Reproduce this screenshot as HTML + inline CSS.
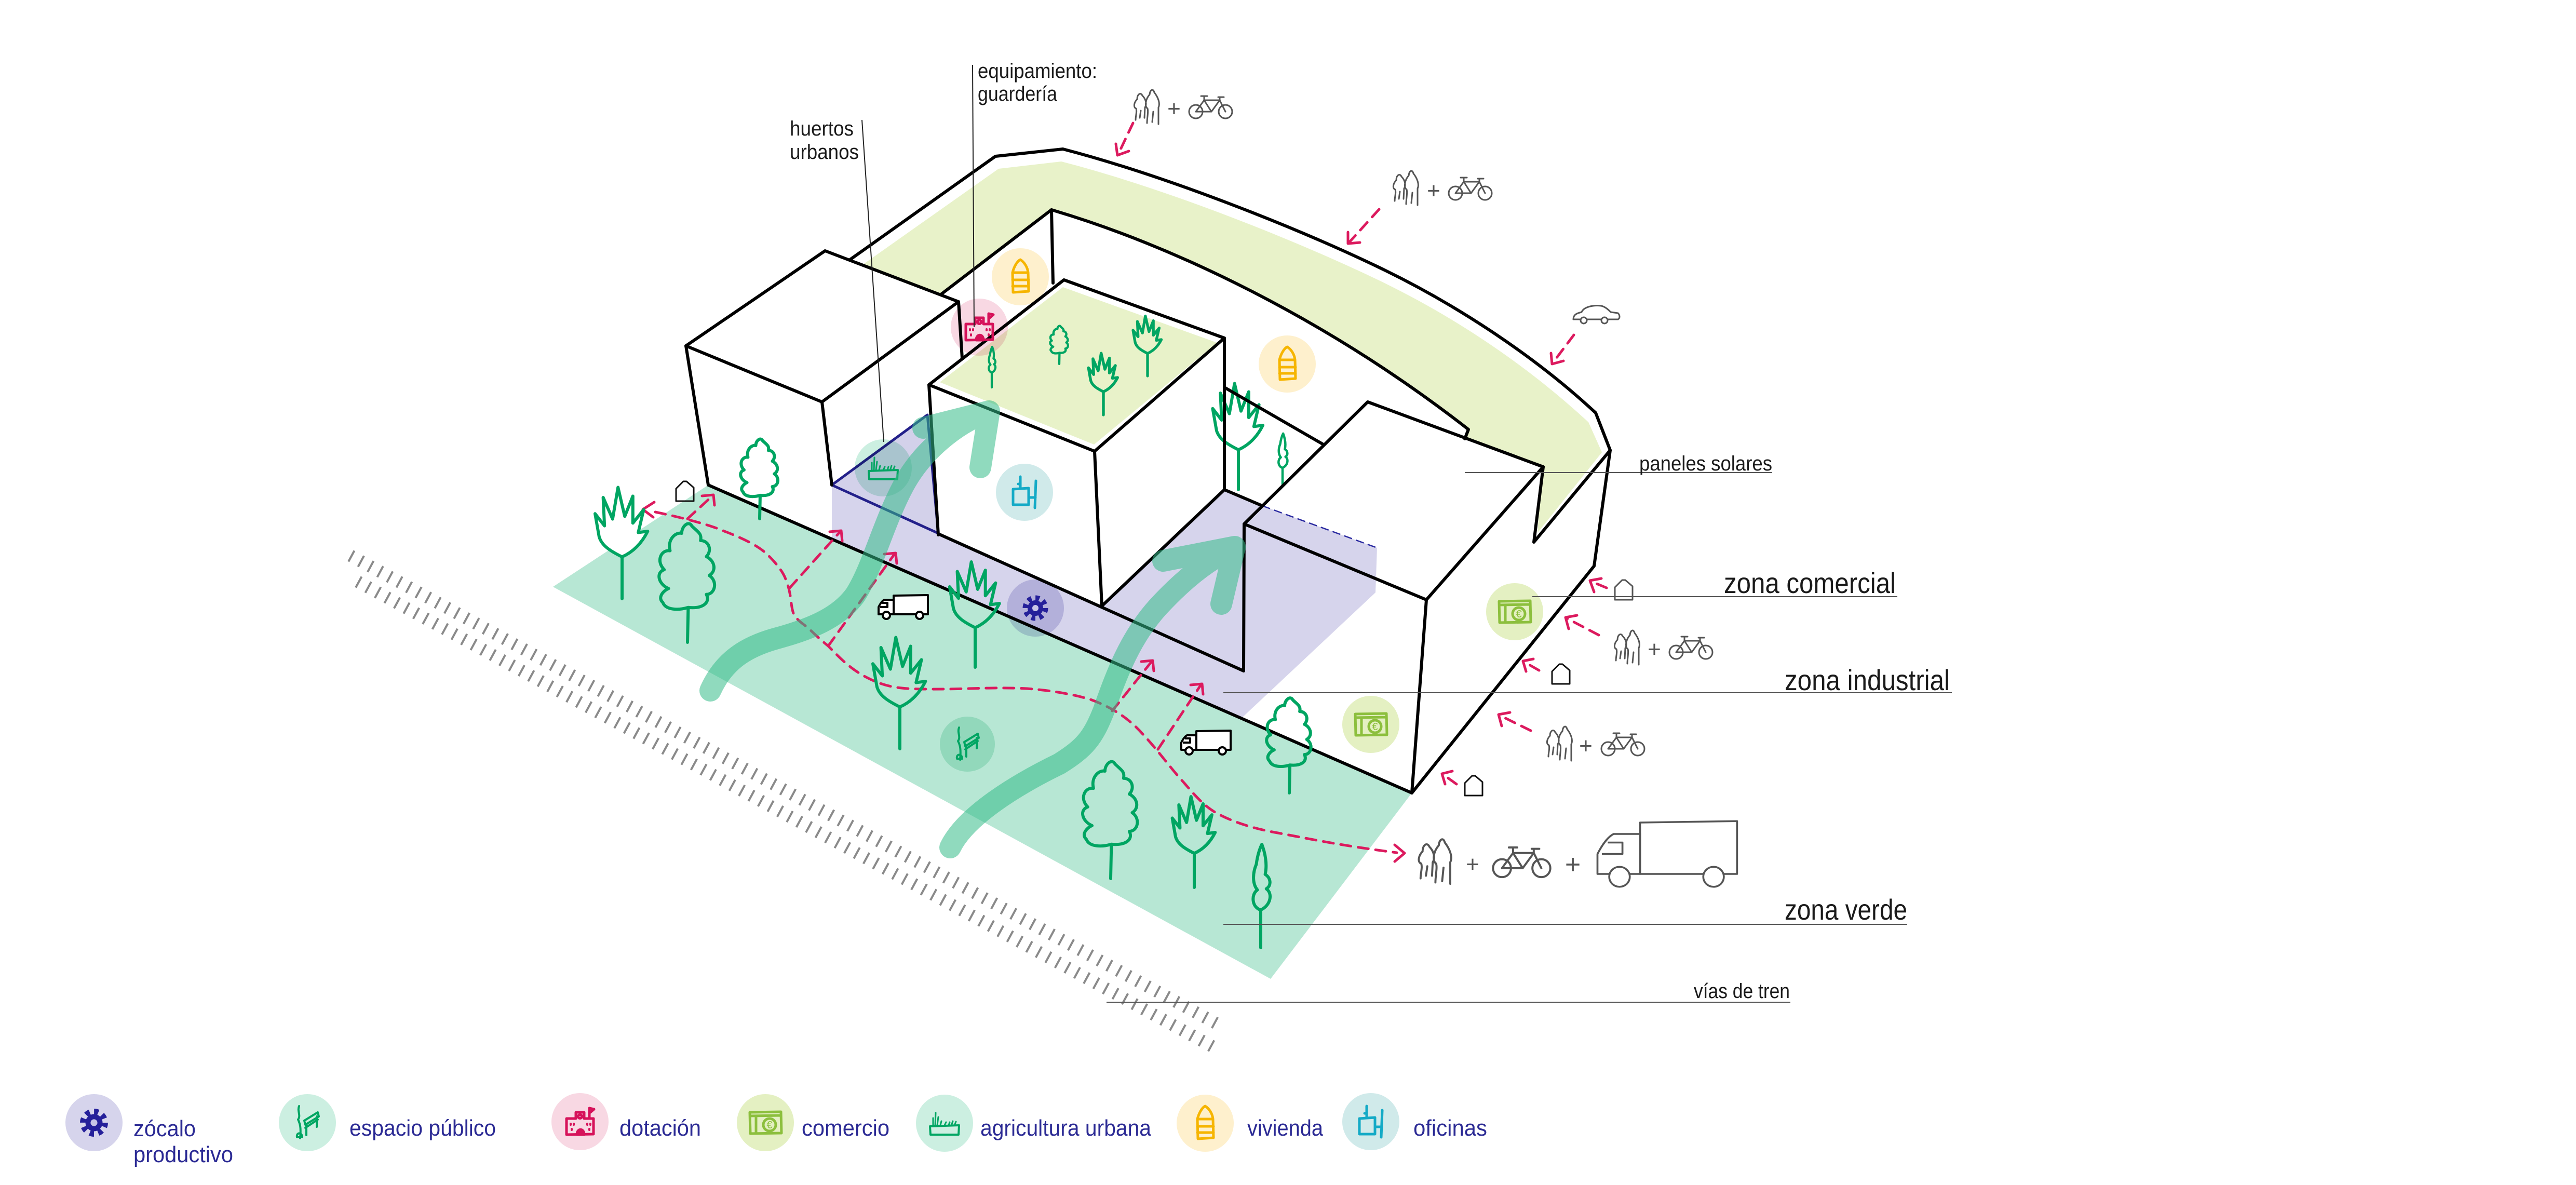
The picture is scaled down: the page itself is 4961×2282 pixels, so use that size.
<!DOCTYPE html>
<html><head><meta charset="utf-8">
<style>
html,body{margin:0;padding:0;background:#fff;}
svg{display:block;}
text{font-family:"Liberation Sans",Arial,sans-serif;}
.mul{mix-blend-mode:multiply;}
</style></head><body>
<svg width="4961" height="2282" viewBox="0 0 4961 2282" xmlns="http://www.w3.org/2000/svg" xmlns:xlink="http://www.w3.org/1999/xlink">
<defs>
  <path id="tA" d="M0,0 L1,-48 M1,-48 C-12,-44 -30,-44 -34,-55 C-42,-62 -32,-72 -26,-74 C-40,-80 -44,-96 -32,-100 C-44,-112 -36,-128 -24,-126 C-28,-142 -16,-152 -8,-150 C-8,-160 2,-168 6,-160 C14,-152 20,-150 18,-140 C30,-140 34,-126 26,-118 C38,-112 40,-98 30,-92 C42,-84 38,-66 26,-66 C32,-54 20,-46 1,-48"/>
  <path id="tB" d="M0,0 L0,-62 M0,-62 C-16,-70 -30,-78 -34,-92 L-40,-126 L-26,-108 L-28,-150 L-14,-118 L-6,-165 L4,-122 L16,-152 L16,-112 L32,-132 L24,-98 L38,-100 C30,-84 18,-70 0,-62"/>
  <path id="tBf" d="M0,-62 C-16,-70 -30,-78 -34,-92 L-40,-126 L-26,-108 L-28,-150 L-14,-118 L-6,-165 L4,-122 L16,-152 L16,-112 L32,-132 L24,-98 L38,-100 C30,-84 18,-70 0,-62 Z"/>
  <path id="tC" d="M0,0 L0,-68 M0,-68 C-16,-72 -18,-96 -6,-104 C-16,-116 -14,-136 -8,-150 C-6,-165 -2,-178 2,-186 C8,-170 12,-150 8,-132 C18,-126 20,-112 10,-106 C22,-98 18,-76 0,-68"/>

  <g id="ped" fill="none" stroke="#555" stroke-width="3" stroke-linejoin="round" stroke-linecap="round">
    <path d="M6,62 C6,54 9,46 7,40 C1,38 3,28 9,22 C9,12 16,8 19,15 C26,22 28,32 24,38 L23,58 M14,58 L16,44 M28,68 C28,58 31,46 29,40 C23,36 25,22 33,13 C34,3 40,1 42,9 C49,18 54,30 50,38 L50,70 M38,66 L40,46"/>
  </g>
  <g id="bike" fill="none" stroke="#555" stroke-width="3" stroke-linejoin="round" stroke-linecap="round">
    <circle cx="14" cy="36" r="13"/><circle cx="71" cy="36" r="13"/>
    <path d="M14,36 L30,14 L60,14 L71,36 M30,14 L44,36 L60,14 M44,36 L14,36 M24,6 L36,6 M30,6 L30,14 M57,8 L68,8 M60,8 L60,14"/>
  </g>
  <g id="trk" stroke-linejoin="round">
    <path d="M32,4 L98,3 L98,40 L32,40 Z" fill="#fff"/>
    <path d="M32,12 L14,12 C10,14 6,20 3,26 L3,40 L32,40 Z" fill="#fff"/>
    <path d="M10,18 L20,18 L20,26 L6,26" fill="none"/>
    <circle cx="18" cy="42" r="7" fill="#fff"/><circle cx="82" cy="42" r="7" fill="#fff"/>
  </g>
  <path id="hse" d="M2,40 L2,16 L16,2 L22,2 L36,14 L36,40 Z" fill="none" stroke-linejoin="round"/>

  <g id="viv" fill="none" stroke="#f6b500" stroke-width="5" stroke-linejoin="round" stroke-linecap="round">
    <path d="M-14,30 L-15,-8 C-12,-20 -6,-30 0,-33 C8,-28 14,-18 15,-8 L16,28 Z M-15,-8 L15,-8 M-15,6 L16,6 M-15,18 L16,18"/>
  </g>
  <g id="gua" fill="none" stroke="#d6125a" stroke-width="5" stroke-linejoin="round" stroke-linecap="round">
    <path d="M-26,-6 L-8,-6 L-8,-18 L8,-18 L8,-6 L26,-6 L26,24 L-26,25 Z M18,-6 L18,-26 L27,-24 L20,-18"/>
    <circle cx="0" cy="-10" r="3.5"/>
    <path d="M-6,25 C-6,12 8,12 8,25 Z" fill="#d6125a"/>
    <path d="M-18,4 L-18,6 M-12,4 L-12,6 M14,4 L14,6 M20,4 L20,6 M-16,14 L-16,16 M18,14 L18,16" stroke-width="4"/>
  </g>
  <g id="agr" fill="none" stroke="#00a562" stroke-width="4" stroke-linejoin="round" stroke-linecap="round">
    <path d="M-28,6 L28,4 L27,22 L-27,22 Z"/>
    <path d="M-22,4 L-22,-10 M-18,4 L-17,-20 M-14,4 L-12,-12 M-8,4 L-6,-4 M0,4 L3,-2 M8,4 L10,-2 M14,2 L16,-4 M20,2 L22,-3" stroke-width="3"/>
  </g>
  <g id="ofi" fill="none" stroke="#14aac6" stroke-width="5" stroke-linejoin="round" stroke-linecap="round">
    <path d="M-22,-6 L8,-8 L8,24 L-22,24 Z M-8,-8 L-8,-30 M-12,-16 L-8,-16 M22,-22 L20,30 M8,10 L21,10"/>
  </g>
  <g id="gear">
    <circle r="15" fill="#25209a"/>
    <circle r="19" fill="none" stroke="#25209a" stroke-width="11" stroke-dasharray="7.46 7.46"/>
    <circle r="6" fill="#c9c6e6"/>
  </g>
  <g id="com" fill="none" stroke="#8cbf3d" stroke-width="5" stroke-linejoin="round">
    <path d="M-30,-20 L30,-21 L31,20 L-29,21 Z M-30,-13 L30,-14 M-18,-13 L-18,20"/>
    <circle cx="8" cy="4" r="12"/>
    <text x="8" y="11" font-size="20" fill="#8cbf3d" stroke="none" text-anchor="middle">€</text>
  </g>
  <g id="esp" fill="none" stroke="#00a562" stroke-width="4" stroke-linejoin="round" stroke-linecap="round">
    <path d="M-16,-32 C-20,-22 -12,-14 -18,-6 C-14,2 -12,10 -14,30 M-20,28 C-22,18 -10,18 -10,28 Z M-6,-4 L20,-20 L22,-12 L-4,4 Z M-2,4 L-2,24 M18,-12 L18,8 M-4,10 L20,-6"/>
  </g>
</defs>

<rect width="4961" height="2282" fill="#fff"/>

<!-- railway hatching -->
<g stroke="#8a8a8a" stroke-width="24" stroke-dasharray="4 17" fill="none">
  <path d="M675,1070 L2350,1975"/>
  <path d="M689,1120 L2340,2018"/>
</g>

<!-- green plane -->
<polygon points="1065,1130 1364,934 2719,1527 2447,1885" fill="#b7e7d4"/>

<!-- arc roof band (paneles solares) -->
<path d="M1661,510 L1923,325 L2044,311 C2250,364 2500,465 2656,540 S2950,712 3059,813 L3085,871 L2961,1026 L2970,901 L2821,845 L2828,827 C2550,610 2250,470 2025,404 L1812,567 Z" fill="#e8f2c9"/>

<!-- block A faces -->
<polygon points="1321,666 1589,483 1846,581 1583,774" fill="#fff"/>
<polygon points="1321,666 1583,774 1602,934 1602,1040 1364,934" fill="#fff"/>
<polygon points="1583,774 1846,581 1853,690 1789,741 1786,799 1602,934" fill="#fff"/>

<!-- block B faces -->
<polygon points="1789,741 2049,539 2358,651 2108,869" fill="#fff"/>
<polygon points="1810,736 2047,553 2344,660 2107,856" fill="#e8f2c9"/>
<polygon points="1789,741 2108,869 2122,1167 1807,1030" fill="#fff"/>
<polygon points="2108,869 2358,651 2358,942 2122,1167" fill="#fff"/>

<!-- courtyard trees (behind D) -->
<g fill="none" stroke="#00a562" stroke-linecap="round" stroke-linejoin="round">
  <use href="#tB" transform="translate(2385,943) scale(1.24)" stroke-width="4.8"/>
  <use href="#tC" transform="translate(2470,939) scale(0.56)" stroke-width="8"/>
</g>

<!-- block D + arc end -->
<polygon points="2396,1009 2634,774 2972,899 2747,1155" fill="#fff"/>
<polygon points="2396,1009 2747,1155 2719,1527 2395,1385" fill="#fff"/>
<polygon points="2747,1155 2972,899 2954,1044 3101,867 3070,1090 2719,1527" fill="#fff"/>
<polygon points="2970,901 2961,1026 3085,871 3059,813" fill="#e8f2c9"/>

<!-- lavender zocalo -->
<polygon points="1602,934 1807,1028 2122,1167 2358,943 2431,974 2652,1055 2649,1141 2391,1383 1602,1040" fill="#d6d4ec"/>
<polygon points="1602,934 1786,799 1807,1027" fill="#d3d1ea" stroke="#23208a" stroke-width="5" stroke-linejoin="round"/>
<path d="M2431,974 L2652,1055" stroke="#2a2aa0" stroke-width="2.5" stroke-dasharray="16 8" fill="none"/>

<!-- black outlines -->
<g fill="none" stroke="#000" stroke-width="6" stroke-linejoin="round" stroke-linecap="round">
  <path d="M1637,500 L1917,301 L2047,287 C2250,340 2500,440 2656,515 S2960,690 3073,795 L3101,867 L3070,1090 L2719,1527"/>
  <path d="M1812,567 L2025,404 C2250,470 2550,610 2828,827 L2821,845"/>
  <path d="M2025,404 L2028,545"/>
  <polygon points="1321,666 1589,483 1846,581 1583,774"/>
  <path d="M1321,666 L1364,934 M1583,774 L1602,934 M1846,581 L1853,690"/>
  <polygon points="1789,741 2049,539 2358,651 2108,869"/>
  <path d="M1789,741 L1807,1030 M2108,869 L2122,1167 M2358,651 L2358,943 M2122,1167 L2358,943 M1807,1028 L2395,1292"/>
  <path d="M2358,943 L2431,974 M2358,746 L2547,855"/>
  <polygon points="2396,1009 2634,774 2972,899 2747,1155"/>
  <path d="M2396,1009 L2395,1292 M2747,1155 L2719,1527 M2972,899 L2954,1044 L3101,867"/>
  <path d="M1364,934 L2719,1527"/>
</g>

<!-- icon circles in diagram -->
<g class="mul">
  <circle cx="1965" cy="533" r="55" fill="#fef0cd"/>
  <circle cx="2479" cy="701" r="55" fill="#fef0cd"/>
  <circle cx="1886" cy="630" r="55" fill="#f8d8e3"/>
  <circle cx="1701" cy="901" r="55" fill="#ccefe1"/>
  <circle cx="1973" cy="948" r="55" fill="#d0eaea"/>
  <circle cx="1994" cy="1171" r="55" fill="#d6d4ec"/>
  <circle cx="1863" cy="1433" r="53" fill="#ccefe1"/>
  <circle cx="2640" cy="1395" r="55" fill="#e4f0c2"/>
  <circle cx="2917" cy="1178" r="55" fill="#e4f0c2"/>
</g>
<use href="#viv" transform="translate(1965,533)"/>
<use href="#viv" transform="translate(2479,701)"/>
<use href="#gua" transform="translate(1886,630)"/>
<use href="#agr" transform="translate(1701,901)"/>
<use href="#ofi" transform="translate(1973,948)"/>
<use href="#gear" transform="translate(1994,1171)"/>
<use href="#esp" transform="translate(1863,1433)"/>
<use href="#com" transform="translate(2640,1395)"/>
<use href="#com" transform="translate(2917,1178)"/>

<!-- trucks, houses, people -->
<use href="#trk" transform="translate(1689,1143)" stroke="#000" stroke-width="4"/>
<use href="#trk" transform="translate(2272,1404)" stroke="#000" stroke-width="4"/>
<use href="#trk" transform="translate(3068,1573) scale(2.83,2.75)" stroke="#555" stroke-width="1.3"/>
<use href="#hse" transform="translate(1300,925)" stroke="#111" stroke-width="3"/>
<use href="#hse" transform="translate(3108,1115)" stroke="#555" stroke-width="3"/>
<use href="#hse" transform="translate(2987,1277)" stroke="#111" stroke-width="3"/>
<use href="#hse" transform="translate(2819,1492)" stroke="#111" stroke-width="3"/>

<use href="#ped" transform="translate(2181,169)"/>
<use href="#bike" transform="translate(2289,179)"/>
<use href="#ped" transform="translate(2680,325)"/>
<use href="#bike" transform="translate(2789,336)"/>
<use href="#ped" transform="translate(3106,1210)"/>
<use href="#bike" transform="translate(3214,1220)"/>
<use href="#ped" transform="translate(2976,1395)"/>
<use href="#bike" transform="translate(3083,1406)"/>
<use href="#ped" transform="translate(2728,1611) scale(1.3)"/>
<use href="#bike" transform="translate(2874,1624) scale(1.33)"/>
<g fill="#555" font-size="44" text-anchor="middle">
  <text x="2261" y="224">+</text>
  <text x="2761" y="382">+</text>
  <text x="3186" y="1265">+</text>
  <text x="3054" y="1451">+</text>
  <text x="2836" y="1679">+</text>
  <text x="3029" y="1682" font-size="52">+</text>
</g>
<!-- car -->
<g fill="none" stroke="#555" stroke-width="3" stroke-linejoin="round" transform="translate(3028,585)">
  <path d="M2,30 C2,20 10,18 18,16 C22,6 40,2 56,4 C64,6 70,12 74,16 L88,18 C92,22 92,28 88,30 Z"/>
  <circle cx="22" cy="32" r="6" fill="#fff"/><circle cx="62" cy="32" r="6" fill="#fff"/>
</g>

<!-- pink dashed flows -->
<g fill="none" stroke="#dc1a5e" stroke-width="5" stroke-linecap="round" stroke-linejoin="round">
  <g stroke-dasharray="20 14">
    <path d="M1262,986 C1320,998 1370,1012 1395,1023 C1440,1040 1465,1055 1479,1069 C1500,1090 1510,1105 1514,1118 C1525,1145 1522,1165 1528,1181 C1535,1195 1545,1200 1556,1209 C1570,1222 1580,1232 1595,1244 C1620,1270 1640,1290 1672,1306 C1700,1320 1720,1324 1748,1326 C1830,1330 1900,1322 1978,1326 C2030,1330 2070,1338 2100,1347 C2150,1365 2180,1390 2202,1415 C2230,1445 2255,1480 2279,1506 C2300,1530 2320,1555 2349,1569 C2380,1585 2420,1597 2461,1604 C2520,1615 2580,1628 2690,1642"/>
    <path d="M1324,999 L1372,955"/>
    <path d="M1521,1132 L1617,1025"/>
    <path d="M1595,1244 L1722,1068"/>
    <path d="M2142,1369 L2217,1275"/>
    <path d="M2230,1443 L2312,1320"/>
    <path d="M2182,237 L2154,296"/>
    <path d="M2656,403 L2599,466"/>
    <path d="M3031,645 L2991,698"/>
    <path d="M3094,1132 L3065,1120"/>
    <path d="M3079,1223 L3018,1191"/>
    <path d="M2964,1291 L2936,1275"/>
    <path d="M2948,1407 L2889,1378"/>
    <path d="M2805,1510 L2780,1492"/>
  </g>
  <path d="M1260,967 L1238,981 L1258,996"/>
  <path d="M2686,1627 L2705,1643 L2686,1659"/>
  <path d="M1352,955 L1374,953 L1376,973"/>
  <path d="M1598,1024 L1620,1022 L1622,1042"/>
  <path d="M1703,1067 L1725,1065 L1727,1085"/>
  <path d="M2198,1274 L2220,1272 L2222,1292"/>
  <path d="M2293,1319 L2315,1317 L2317,1337"/>
  <path d="M2149,277 L2152,299 L2174,291"/>
  <path d="M2596,447 L2596,469 L2619,467"/>
  <path d="M2987,680 L2989,701 L3011,695"/>
  <path d="M3084,1114 L3062,1118 L3070,1140"/>
  <path d="M3037,1185 L3015,1189 L3021,1211"/>
  <path d="M2953,1269 L2933,1273 L2939,1293"/>
  <path d="M2908,1372 L2886,1376 L2892,1398"/>
  <path d="M2797,1485 L2777,1490 L2783,1510"/>
</g>

<!-- trees -->
<use href="#tBf" transform="translate(1198,1153) scale(1.3)" fill="#fff" stroke="none"/>
<g fill="none" stroke="#00a562" stroke-linecap="round" stroke-linejoin="round">
  <use href="#tA" transform="translate(1463,999) scale(0.94)" stroke-width="6.4"/>
  <use href="#tB" transform="translate(1198,1153) scale(1.3)" stroke-width="4.6"/>
  <use href="#tA" transform="translate(1324,1237) scale(1.4)" stroke-width="4.3"/>
  <use href="#tB" transform="translate(1878,1285) scale(1.23)" stroke-width="4.9"/>
  <use href="#tB" transform="translate(1733,1442) scale(1.3)" stroke-width="4.6"/>
  <use href="#tA" transform="translate(2139,1692) scale(1.38)" stroke-width="4.3"/>
  <use href="#tB" transform="translate(2300,1709) scale(1.06)" stroke-width="5.7"/>
  <use href="#tC" transform="translate(2428,1825) scale(1.07)" stroke-width="5.6"/>
  <use href="#tA" transform="translate(2483,1527) scale(1.12)" stroke-width="5.4"/>
  <use href="#tC" transform="translate(1910,746) scale(0.42)" stroke-width="10"/>
  <use href="#tA" transform="translate(2040,701) scale(0.45)" stroke-width="9.5"/>
  <use href="#tB" transform="translate(2125,799) scale(0.72)" stroke-width="7.5"/>
  <use href="#tB" transform="translate(2210,724) scale(0.7)" stroke-width="7.5"/>
</g>

<!-- big translucent green arrows -->
<g opacity="0.55" fill="none" stroke="#34bb88" stroke-width="42" stroke-linecap="round" stroke-linejoin="round">
  <path d="M1368,1330 C1395,1270 1440,1245 1493,1230 C1560,1212 1615,1190 1647,1146 C1680,1095 1700,1010 1740,935 C1775,870 1840,815 1905,792 M1778,824 L1905,792 L1888,900"/>
</g>
<g opacity="0.55" fill="none" stroke="#34bb88" stroke-width="42" stroke-linecap="round" stroke-linejoin="round">
  <path d="M1830,1632 C1860,1570 1960,1510 2040,1471 C2090,1440 2105,1420 2125,1370 C2150,1300 2175,1230 2230,1169 C2280,1115 2330,1075 2378,1055 M2240,1080 L2378,1053 L2352,1163"/>
</g>

<!-- leader lines -->
<g stroke="#222" stroke-width="2" fill="none">
  <path d="M1660,231 L1702,851"/>
  <path d="M1873,125 L1876,630"/>
</g>
<g stroke="#555" stroke-width="2" fill="none">
  <path d="M2821,910 L3413,910"/>
  <path d="M2951,1149 L3654,1149"/>
  <path d="M2356,1334 L3759,1334"/>
  <path d="M2356,1780 L3673,1780"/>
  <path d="M2131,1930 L3448,1930"/>
</g>

<!-- labels -->
<g fill="#1a1a1a" font-size="40">
  <text x="1521" y="261" textLength="123" lengthAdjust="spacingAndGlyphs">huertos</text>
  <text x="1521" y="306" textLength="133" lengthAdjust="spacingAndGlyphs">urbanos</text>
  <text x="1883" y="150" textLength="230" lengthAdjust="spacingAndGlyphs">equipamiento:</text>
  <text x="1883" y="194" textLength="153" lengthAdjust="spacingAndGlyphs">guardería</text>
  <text x="3157" y="906" textLength="256" lengthAdjust="spacingAndGlyphs">paneles solares</text>
  <text x="3262" y="1922" textLength="185" lengthAdjust="spacingAndGlyphs">vías de tren</text>
</g>
<g fill="#1a1a1a" font-size="56">
  <text x="3320" y="1142" textLength="331" lengthAdjust="spacingAndGlyphs">zona comercial</text>
  <text x="3437" y="1329" textLength="318" lengthAdjust="spacingAndGlyphs">zona industrial</text>
  <text x="3437" y="1771" textLength="236" lengthAdjust="spacingAndGlyphs">zona verde</text>
</g>

<!-- legend -->
<circle cx="181" cy="2162" r="55" fill="#d6d4ec"/>
<circle cx="592" cy="2162" r="55" fill="#ccefe1"/>
<circle cx="1117" cy="2160" r="55" fill="#f8d8e3"/>
<circle cx="1474" cy="2162" r="55" fill="#e4f0c2"/>
<circle cx="1819" cy="2163" r="55" fill="#ccefe1"/>
<circle cx="2321" cy="2163" r="55" fill="#fef0cd"/>
<circle cx="2640" cy="2160" r="55" fill="#d0eaea"/>
<use href="#gear" transform="translate(181,2162) scale(1.1)"/>
<use href="#esp" transform="translate(592,2162)"/>
<use href="#gua" transform="translate(1117,2160)"/>
<use href="#com" transform="translate(1474,2162)"/>
<use href="#agr" transform="translate(1819,2163)"/>
<use href="#viv" transform="translate(2321,2163)"/>
<use href="#ofi" transform="translate(2640,2160)"/>
<g fill="#2b2a94" font-size="44">
  <text x="257" y="2188" textLength="120" lengthAdjust="spacingAndGlyphs">zócalo</text>
  <text x="257" y="2238" textLength="192" lengthAdjust="spacingAndGlyphs">productivo</text>
  <text x="673" y="2187" textLength="282" lengthAdjust="spacingAndGlyphs">espacio público</text>
  <text x="1193" y="2187" textLength="157" lengthAdjust="spacingAndGlyphs">dotación</text>
  <text x="1544" y="2187" textLength="169" lengthAdjust="spacingAndGlyphs">comercio</text>
  <text x="1888" y="2187" textLength="329" lengthAdjust="spacingAndGlyphs">agricultura urbana</text>
  <text x="2402" y="2187" textLength="146" lengthAdjust="spacingAndGlyphs">vivienda</text>
  <text x="2722" y="2187" textLength="142" lengthAdjust="spacingAndGlyphs">oficinas</text>
</g>
</svg>
</body></html>
